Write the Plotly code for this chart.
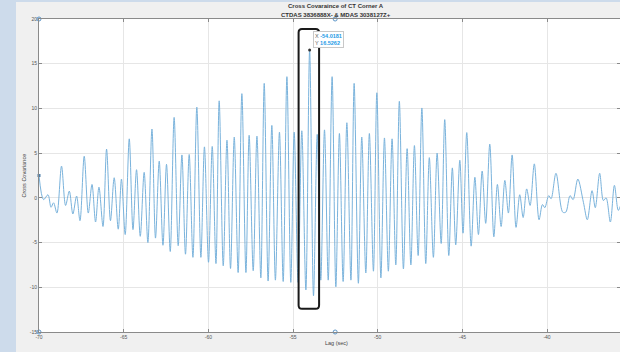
import plotly.graph_objects as go

# Local extrema of the cross-covariance curve
lag_sec = [-70.00, -69.73, -69.47, -69.29, -69.14, -68.94, -68.67, -68.43, -68.21, -68.00,
           -67.78, -67.58, -67.33, -67.09, -66.87, -66.66, -66.46, -66.22, -66.01, -65.78,
           -65.56, -65.32, -65.13, -64.91, -64.67, -64.45, -64.24, -64.02, -63.79, -63.57,
           -63.33, -63.12, -62.90, -62.68, -62.47, -62.25, -62.02, -61.78, -61.56, -61.35,
           -61.13, -60.91, -60.68, -60.44, -60.23, -59.99, -59.77, -59.55, -59.36, -59.12,
           -58.90, -58.69, -58.47, -58.24, -58.02, -57.78, -57.59, -57.35, -57.13, -56.90,
           -56.70, -56.47, -56.25, -56.04, -55.80, -55.58, -55.36, -55.13, -54.93, -54.70,
           -54.48, -54.24, -54.0181, -53.79, -53.57, -53.36, -53.14, -52.92, -52.69, -52.47,
           -52.26, -52.04, -51.82, -51.58, -51.39, -51.14, -50.94, -50.70, -50.49, -50.25,
           -50.05, -49.81, -49.60, -49.37, -49.15, -48.93, -48.72, -48.48, -48.26, -48.04,
           -47.83, -47.61, -47.39, -47.16, -46.95, -46.71, -46.49, -46.25, -46.04, -45.80,
           -45.59, -45.39, -45.15, -44.96, -44.74, -44.48, -44.26, -44.05, -43.83, -43.62,
           -43.38, -43.14, -42.93, -42.71, -42.49, -42.28, -42.06, -41.83, -41.61, -41.41,
           -41.20, -41.00, -40.75, -40.47, -40.27, -40.13, -39.90, -39.76, -39.47, -39.07,
           -38.89, -38.64, -38.46, -38.18, -37.85, -37.62, -37.34, -37.15, -36.89, -36.67,
           -36.51, -36.26, -36.02, -35.79, -35.60]
cross_cov = [2.5, -0.2, 0.35, -1.05, -0.55, -1.7, 3.55, -0.85, 0.75, -1.8,
             0.2, -2.55, 4.65, -1.7, 1.5, -2.7, 1.2, -3.2, 5.45, -2.55,
             2.25, -3.5, 2.1, -4.1, 6.6, -3.55, 3.15, -4.3, 2.85, -5.0,
             7.7, -4.5, 4.1, -5.3, 3.75, -6.0, 9.0, -5.35, 4.8, -6.3,
             4.85, -6.65, 10.15, -6.65, 5.7, -7.2, 5.75, -7.35, 10.85, -7.6,
             6.45, -7.9, 6.8, -8.35, 11.65, -8.35, 7.0, -8.15, 6.9, -8.95,
             12.8, -9.3, 8.1, -9.2, 7.35, -9.35, 13.55, -9.45, 7.35, -9.45,
             7.5, -10.3, 16.5262, -10.95, 7.1, -9.2, 7.6, -9.2, 13.55, -9.95,
             7.2, -9.35, 8.4, -9.2, 12.8, -9.55, 6.8, -8.4, 7.2, -8.2,
             11.75, -8.95, 6.7, -8.2, 6.6, -7.5, 10.8, -7.95, 5.5, -7.5,
             5.85, -6.45, 10.05, -7.35, 4.5, -6.65, 5.0, -5.1, 8.75, -6.45,
             3.35, -5.25, 4.2, -3.95, 7.3, -5.4, 2.3, -4.1, 3.0, -2.85,
             6.0, -4.35, 1.5, -3.2, 1.95, -1.7, 4.8, -3.3, 0.35, -2.2,
             1.0, -0.85, 3.8, -2.45, -0.75, -1.1, 0.25, -0.1, 2.75, -1.6,
             -1.6, 0.25, -0.2, 2.1, -0.5, -2.45, 0.8, -1.1, 2.75, -0.3,
             0.0, -2.7, 1.4, -1.4, -0.5]

x_ticks = [-70, -65, -60, -55, -50, -45, -40]
y_ticks = [20, 15, 10, 5, 0, -5, -10, -15]
x_range = [-70, -35.69]
y_range = [-15, 20]

title_1 = "Cross Covaraince of CT Corner A"
title_2 = "CTDAS 3836888X- & MDAS 3038127Z+"
x_label = "Lag (sec)"
y_label = "Cross Covariance"

# datatip point = maximum of the series
i_max = max(range(len(cross_cov)), key=lambda i: cross_cov[i])
tip_x, tip_y = lag_sec[i_max], cross_cov[i_max]

FONT = "Liberation Sans, Arial, sans-serif"
W, H = 620, 352
ML, MR, MT, MB = 39, 0, 19, 20
PW, PH = W - ML - MR, H - MT - MB

def px_x(p):
    return (p - ML) / PW

def px_y(p):
    return (H - MB - p) / PH

fig = go.Figure()
fig.add_trace(go.Scatter(
    x=lag_sec, y=cross_cov, mode="lines",
    line=dict(color="#7ab3dc", width=1, shape="spline", smoothing=0.9),
    hoverinfo="skip", showlegend=False,
))
# first data point marker
fig.add_trace(go.Scatter(
    x=[lag_sec[0]], y=[cross_cov[0]], mode="markers",
    marker=dict(symbol="square", size=3, color="#4f7fa8"),
    cliponaxis=False, showlegend=False, hoverinfo="skip",
))
# axis handle markers
fig.add_trace(go.Scatter(
    x=[x_range[0], x_range[0], -52.51, -52.51], y=[y_range[1], y_range[0], y_range[1], y_range[0]],
    mode="markers",
    marker=dict(symbol="circle-open", size=4, color="#5b95c8", line=dict(width=1)),
    cliponaxis=False, showlegend=False, hoverinfo="skip",
))
# datatip dot
fig.add_trace(go.Scatter(
    x=[tip_x], y=[tip_y], mode="markers",
    marker=dict(size=3, color="#333333"),
    cliponaxis=False, showlegend=False, hoverinfo="skip",
))

# rounded highlight rectangle around the peak
x0, x1, y0, y1 = -54.67, -53.46, -12.40, 18.88
rx, ry = 0.2, 0.4
path = (f"M {x0+rx},{y1} L {x1-rx},{y1} Q {x1},{y1} {x1},{y1-ry} "
        f"L {x1},{y0+ry} Q {x1},{y0} {x1-rx},{y0} L {x0+rx},{y0} "
        f"Q {x0},{y0} {x0},{y0+ry} L {x0},{y1-ry} Q {x0},{y1} {x0+rx},{y1} Z")
shapes = [
    dict(type="path", path=path, xref="x", yref="y",
         line=dict(color="#1a1a1a", width=2), layer="above"),
    # left bluish strip of the screenshot
    dict(type="rect", xref="paper", yref="paper",
         x0=px_x(0), x1=px_x(16), y0=px_y(H), y1=px_y(0),
         fillcolor="#cddbeb", line=dict(width=0), layer="below"),
    dict(type="rect", xref="paper", yref="paper",
         x0=px_x(0), x1=px_x(W), y0=px_y(2), y1=px_y(0),
         fillcolor="#cddbeb", line=dict(width=0), layer="below"),
]

annotations = [
    dict(text=f"<b>{title_1}</b>", xref="paper", yref="paper", x=px_x(336), y=px_y(6.5),
         showarrow=False, font=dict(family=FONT, size=6, color="#333333"),
         xanchor="center", yanchor="middle"),
    dict(text=f"<b>{title_2}</b>", xref="paper", yref="paper", x=px_x(336), y=px_y(14.5),
         showarrow=False, font=dict(family=FONT, size=6, color="#333333"),
         xanchor="center", yanchor="middle"),
    dict(text=x_label, xref="paper", yref="paper", x=px_x(336), y=px_y(342.5),
         showarrow=False, font=dict(family=FONT, size=5.5, color="#444444"),
         xanchor="center", yanchor="middle"),
    dict(text=y_label, xref="paper", yref="paper", x=px_x(23), y=px_y(175.5),
         showarrow=False, textangle=-90, font=dict(family=FONT, size=5.5, color="#444444"),
         xanchor="center", yanchor="middle"),
    dict(text=(f"<span style='color:#666666'>X</span> <b>{tip_x:.4f}</b><br>"
               f"<span style='color:#666666'>Y</span> <b>{tip_y:.4f}</b>"),
         x=tip_x, y=tip_y, xref="x", yref="y", showarrow=False,
         xanchor="left", yanchor="bottom", xshift=3, yshift=2, align="left",
         font=dict(family=FONT, size=5.5, color="#1e9be6"),
         bgcolor="white", bordercolor="#c8c8c8", borderwidth=1, borderpad=1),
]

axis_common = dict(
    showgrid=True, gridcolor="#e6e6e6", gridwidth=1,
    showline=True, linecolor="#8a8a8a", linewidth=1, mirror="ticks",
    ticks="inside", ticklen=3, tickcolor="#8a8a8a",
    tickfont=dict(family=FONT, size=5, color="#555555"),
    zeroline=False,
)

fig.update_layout(
    width=W, height=H,
    margin=dict(l=ML, r=MR, t=MT, b=MB),
    paper_bgcolor="#f0f0f0", plot_bgcolor="white",
    xaxis=dict(range=x_range, tickvals=x_ticks, ticktext=[str(v) for v in x_ticks], **axis_common),
    yaxis=dict(range=y_range, tickvals=y_ticks, ticktext=[str(v) for v in y_ticks], **axis_common),
    shapes=shapes, annotations=annotations, showlegend=False,
)

fig.write_html(
    "out.html",
    config={"displayModeBar": False, "staticPlot": True},
    post_script="document.body.style.margin='0';document.body.style.overflow='hidden';",
)
